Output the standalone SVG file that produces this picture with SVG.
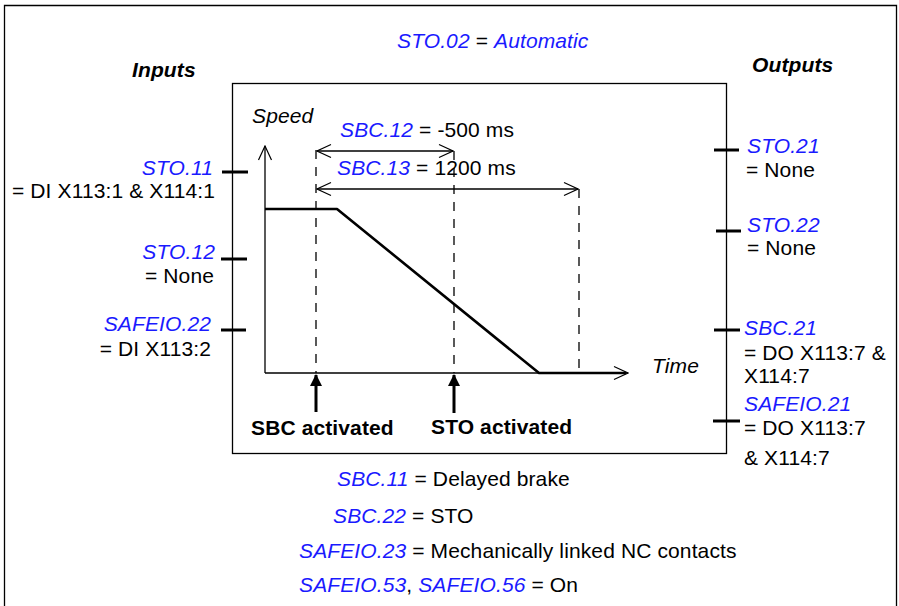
<svg xmlns="http://www.w3.org/2000/svg" width="899" height="606" viewBox="0 0 899 606">
<defs>
<style>
text{font-family:"Liberation Sans",Arial,sans-serif;font-size:21px;letter-spacing:0.12px;fill:#000}
.p{fill:#1a1aff;font-style:italic}
.it{font-style:italic}
.bi{font-style:italic;font-weight:bold}
.b{font-weight:bold}
.tick{stroke:#000;stroke-width:3;fill:none}
.thin{stroke:#000;stroke-width:1.3;fill:none}
.dash{stroke:#000;stroke-width:1.3;fill:none;stroke-dasharray:9 8}
.curve{stroke:#000;stroke-width:2.6;fill:none;stroke-linejoin:round}
</style>
<marker id="open" viewBox="0 0 16 16" refX="15" refY="8" markerWidth="16" markerHeight="16" markerUnits="userSpaceOnUse" orient="auto-start-reverse">
<path d="M1,1.5 L15,8 L1,14.5" fill="none" stroke="#000" stroke-width="1.2"/>
</marker>
<marker id="solid" viewBox="0 0 12 22" refX="11" refY="6" markerWidth="12" markerHeight="22" markerUnits="userSpaceOnUse" orient="auto">
<path d="M0,0 L12,6 L0,12 Z" fill="#000"/>
</marker>
</defs>
<rect width="899" height="606" fill="#fff"/>
<path d="M4.5,606 V5.5 H896.5 V606" class="thin"/>

<g id="title"><text x="397" y="48"><tspan class="p">STO.02</tspan> = <tspan class="p">Automatic</tspan></text></g>
<g id="inputs-label"><text x="132" y="77" class="bi">Inputs</text></g>
<g id="outputs-label"><text x="752" y="72" class="bi">Outputs</text></g>

<g id="chart">
<rect x="232.5" y="83.5" width="494" height="370" class="thin"/>
<text x="252" y="123" class="it">Speed</text>
<text x="652" y="373" class="it">Time</text>
</g>

<g id="connectors">
<path d="M265,373 V146" class="thin" marker-end="url(#open)"/>
<path d="M265,373 H628" class="thin" marker-end="url(#open)"/>
<path d="M265,209 H337 L539,373 H626" class="curve"/>
<path d="M316,150 V373" class="dash"/>
<path d="M454,151 V373" class="dash"/>
<path d="M579,189 V373" class="dash"/>
<path d="M317,151 H453" class="thin" marker-start="url(#open)" marker-end="url(#open)"/>
<path d="M317,189 H578" class="thin" marker-start="url(#open)" marker-end="url(#open)"/>
<path d="M316,412 V375" stroke="#000" stroke-width="3" marker-end="url(#solid)"/>
<path d="M454,413 V375" stroke="#000" stroke-width="3" marker-end="url(#solid)"/>
<path d="M222,172 H248" class="tick"/>
<path d="M221,259 H247" class="tick"/>
<path d="M221,330 H246" class="tick"/>
<path d="M714,150 H739" class="tick"/>
<path d="M716,231 H741" class="tick"/>
<path d="M714,330 H740" class="tick"/>
<path d="M713,421 H740" class="tick"/>
</g>

<g id="sbc12"><text x="340" y="137"><tspan class="p">SBC.12</tspan> = -500 ms</text></g>
<g id="sbc13"><text x="337" y="175"><tspan class="p">SBC.13</tspan> = 1200 ms</text></g>
<g id="sbc-activated"><text x="251" y="435" class="b">SBC activated</text></g>
<g id="sto-activated"><text x="431" y="434" class="b">STO activated</text></g>

<g id="sto11"><text x="213" y="175" text-anchor="end" class="p">STO.11</text><text x="12" y="198">= DI X113:1 &amp; X114:1</text></g>
<g id="sto12"><text x="215" y="259" text-anchor="end" class="p">STO.12</text><text x="214" y="283" text-anchor="end">= None</text></g>
<g id="safeio22"><text x="211" y="331" text-anchor="end" class="p">SAFEIO.22</text><text x="211" y="356" text-anchor="end">= DI X113:2</text></g>

<g id="sto21"><text x="747" y="153" class="p">STO.21</text><text x="746" y="177">= None</text></g>
<g id="sto22"><text x="747" y="232" class="p">STO.22</text><text x="747" y="255">= None</text></g>
<g id="sbc21"><text x="744" y="335" class="p">SBC.21</text><text x="744" y="360">= DO X113:7 &amp;</text><text x="744" y="383">X114:7</text></g>
<g id="safeio21"><text x="744" y="411" class="p">SAFEIO.21</text><text x="744" y="435">= DO X113:7</text><text x="744" y="465">&amp; X114:7</text></g>

<g id="sbc11"><text x="337" y="486"><tspan class="p">SBC.11</tspan> = Delayed brake</text></g>
<g id="sbc22"><text x="333" y="523"><tspan class="p">SBC.22</tspan> = STO</text></g>
<g id="safeio23"><text x="299" y="558"><tspan class="p">SAFEIO.23</tspan> = Mechanically linked NC contacts</text></g>
<g id="safeio53"><text x="299" y="592"><tspan class="p">SAFEIO.53</tspan>, <tspan class="p">SAFEIO.56</tspan> = On</text></g>
</svg>
